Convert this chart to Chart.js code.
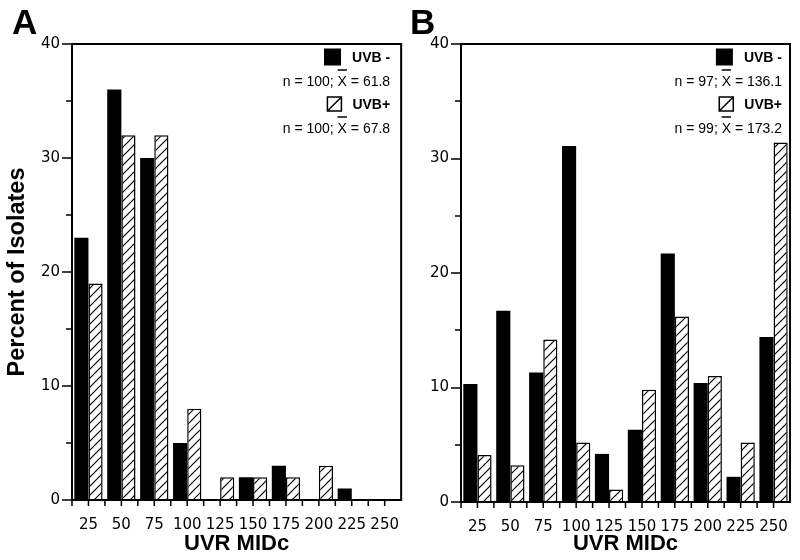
<!DOCTYPE html>
<html>
<head>
<meta charset="utf-8">
<script src="https://cdn.jsdelivr.net/npm/chart.js@4.4.1/dist/chart.umd.min.js"></script>
<style>
  html, body { margin: 0; padding: 0; background: #fff; }
  #wrap { position: relative; width: 800px; height: 560px; overflow: hidden; }
  canvas { position: absolute; top: 0; }
</style>
</head>
<body>
<div id="wrap">
  <canvas id="chartA" width="407" height="560" style="left:0"></canvas>
  <canvas id="chartB" width="400" height="560" style="left:400px"></canvas>
</div>
<script>
// UVR MIDc classes
var categories = ['25', '50', '75', '100', '125', '150', '175', '200', '225', '250'];

// panel A, percent of isolates
var uvbMinusA = [23, 36, 30, 5, 0, 2, 3, 0, 1, 0];
var uvbPlusA = [19, 32, 32, 8, 2, 2, 2, 3, 0, 0];

// panel B, percent of isolates
var uvbMinusB = [10.3, 16.7, 11.3, 31.1, 4.2, 6.3, 21.7, 10.4, 2.2, 14.4];
var uvbPlusB = [4.1, 3.2, 14.2, 5.2, 1.1, 9.8, 16.2, 11.0, 5.2, 31.4];

// legend stats: [UVB-, UVB+]
var nA = [100, 100];
var meanA = ['61.8', '67.8'];
var nB = [97, 99];
var meanB = ['136.1', '173.2'];

var yMax = 40;
var yMinorStep = 5;

Chart.defaults.font.family = '"DejaVu Sans", sans-serif';
Chart.defaults.color = '#000';

// diagonal hatching for the UVB+ bars
function makeHatch() {
    var c = document.createElement('canvas');
    c.width = 9; c.height = 9;
    var g = c.getContext('2d');
    g.fillStyle = '#fff';
    g.fillRect(0, 0, 9, 9);
    g.strokeStyle = '#000';
    g.lineWidth = 1.2;
    g.beginPath();
    g.moveTo(-1, 10); g.lineTo(10, -1);
    g.moveTo(-2, 2); g.lineTo(2, -2);
    g.moveTo(7, 11); g.lineTo(11, 7);
    g.stroke();
    return g.createPattern(c, 'repeat');
}

// frame, tick marks, panel letter and legend
var framePlugin = {
    id: 'frame',
    afterDraw: function(chart, args, opts) {
        var ctx = chart.ctx;
        var a = chart.chartArea;
        var xs = chart.scales.x, ys = chart.scales.y;
        ctx.save();
        ctx.strokeStyle = '#000';
        ctx.lineWidth = 2;
        ctx.strokeRect(a.left, a.top, a.right - a.left, a.bottom - a.top);

        ctx.lineWidth = 1.5;
        ctx.beginPath();
        for (var v = 0; v <= yMax; v += yMinorStep) {
            var py = Math.round(ys.getPixelForValue(v));
            var len = v % 10 === 0 ? 10 : 6;
            ctx.moveTo(a.left - len, py);
            ctx.lineTo(a.left, py);
        }
        var half = (xs.getPixelForValue(1) - xs.getPixelForValue(0)) / 2;
        for (var i = 0; i < categories.length; i++) {
            var px = xs.getPixelForValue(i);
            ctx.moveTo(px - half, a.bottom); ctx.lineTo(px - half, a.bottom + 6);
            ctx.moveTo(px, a.bottom); ctx.lineTo(px, a.bottom + 6);
        }
        ctx.stroke();

        // panel letter
        ctx.fillStyle = '#000';
        ctx.font = 'bold 35px "Liberation Sans"';
        ctx.textAlign = 'left';
        ctx.textBaseline = 'alphabetic';
        ctx.fillText(opts.letter, opts.letterX, 34);

        // legend
        var xr = a.right - opts.inset;
        var rows = [
            { label: 'UVB -', n: opts.n[0], mean: opts.mean[0], hatched: false, y: a.top + 13 },
            { label: 'UVB+', n: opts.n[1], mean: opts.mean[1], hatched: true, y: a.top + 60 }
        ];
        rows.forEach(function(r) {
            ctx.font = 'bold 14px "Liberation Sans"';
            ctx.textAlign = 'right';
            ctx.fillText(r.label, xr, r.y + 5);
            var tw = ctx.measureText(r.label).width;
            var sx = xr - tw - 11;
            if (r.hatched) {
                ctx.fillStyle = '#fff';
                ctx.fillRect(sx - 14, r.y - 7, 14, 14);
                ctx.strokeStyle = '#000';
                ctx.lineWidth = 1.5;
                ctx.strokeRect(sx - 14, r.y - 7, 14, 14);
                ctx.beginPath();
                ctx.moveTo(sx - 14, r.y + 7);
                ctx.lineTo(sx, r.y - 7);
                ctx.stroke();
                ctx.fillStyle = '#000';
            } else {
                ctx.fillRect(sx - 17, r.y - 8.5, 17, 17);
            }

            var ny = r.y + 29;
            var pre = 'n = ' + r.n + '; ';
            var post = ' = ' + r.mean;
            ctx.font = '14px "Liberation Sans"';
            ctx.textAlign = 'left';
            var wPre = ctx.measureText(pre).width;
            var wX = ctx.measureText('X').width;
            var wPost = ctx.measureText(post).width;
            var x0 = xr - wPre - wX - wPost;
            ctx.fillText(pre + 'X' + post, x0, ny);
            ctx.lineWidth = 1.5;
            ctx.beginPath();
            ctx.moveTo(x0 + wPre, ny - 16);
            ctx.lineTo(x0 + wPre + wX, ny - 16);
            ctx.stroke();
        });
        ctx.restore();
    }
};

function makeChart(id, minus, plus, cfg) {
    var hatch = makeHatch();
    return new Chart(document.getElementById(id).getContext('2d'), {
        type: 'bar',
        data: {
            labels: categories,
            datasets: [{
                label: 'UVB -',
                data: minus,
                backgroundColor: '#000',
                borderWidth: 0,
                categoryPercentage: 0.86,
                barPercentage: 1.0
            }, {
                label: 'UVB+',
                data: plus,
                backgroundColor: hatch,
                borderColor: '#000',
                borderWidth: function(c) { return c.raw === 0 ? 0 : 1.5; },
                categoryPercentage: 0.86,
                barPercentage: 1.0
            }]
        },
        options: {
            responsive: false,
            animation: false,
            devicePixelRatio: 1,
            layout: { padding: { top: 44, right: cfg.padRight, left: 0, bottom: 0 } },
            plugins: {
                legend: { display: false },
                tooltip: { enabled: false },
                frame: { letter: cfg.letter, letterX: cfg.letterX, n: cfg.n, mean: cfg.mean, inset: cfg.inset }
            },
            scales: {
                x: {
                    grid: { display: false },
                    border: { display: false },
                    ticks: { font: { size: 15 }, padding: 8, maxRotation: 0, autoSkip: false },
                    title: {
                        display: true,
                        text: 'UVR MIDc',
                        font: { family: '"Liberation Sans"', weight: 'bold', size: 22 },
                        padding: { top: 0, bottom: 3 }
                    },
                    afterFit: function(s) { s.height = cfg.xh; }
                },
                y: {
                    min: 0,
                    max: yMax,
                    grid: { display: false },
                    border: { display: false },
                    ticks: { stepSize: 10, font: { size: 15 }, padding: 4 },
                    title: {
                        display: cfg.yTitle !== '',
                        text: cfg.yTitle,
                        font: { family: '"Liberation Sans"', weight: 'bold', size: 23.5 },
                        padding: { top: 3, bottom: 0 }
                    },
                    afterFit: function(s) { s.width = cfg.yw; }
                }
            }
        },
        plugins: [framePlugin]
    });
}

makeChart('chartA', uvbMinusA, uvbPlusA, {
    letter: 'A', letterX: 12, n: nA, mean: meanA, inset: 11,
    padRight: 0, xh: 60, yw: 72, yTitle: 'Percent of Isolates'
});
makeChart('chartB', uvbMinusB, uvbPlusB, {
    letter: 'B', letterX: 10, n: nB, mean: meanB, inset: 8,
    padRight: 10, xh: 58, yw: 61, yTitle: ''
});
</script>
</body>
</html>
